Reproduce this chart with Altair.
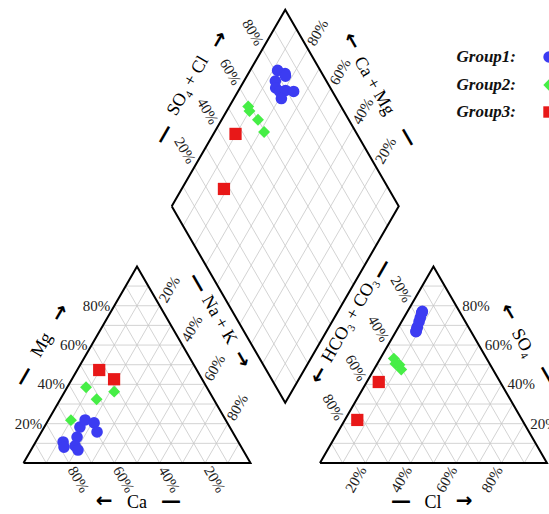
import altair as alt
import pandas as pd
import numpy as np

# ---------------- data (meq %) ----------------
group = ["Group1"] * 9 + ["Group2"] * 4 + ["Group3"] * 2
ca   = [77.2, 78.1, 66.0, 61.9, 69.8, 72.9, 72.7, 58.7, 59.7, 53.2, 68.2, 51.6, 41.9, 43.0, 38.8]
mg   = [10.7,  8.1, 18.3, 21.9, 13.2,  8.7,  6.6, 20.4, 15.8, 38.5, 21.8, 32.4, 36.3, 47.3, 42.6]
nak  = [12.1, 13.8, 15.7, 16.2, 17.0, 18.4, 20.7, 20.9, 24.5,  8.3, 10.0, 16.0, 21.8,  9.7, 18.6]
hco3 = [18.8, 22.5, 24.1, 16.3, 16.8, 23.2, 20.4, 24.3, 17.1, 40.9, 41.5, 40.0, 40.4, 53.5, 72.6]
so4  = [74.0, 69.2, 67.1, 77.2, 76.6, 68.3, 71.9, 66.8, 76.2, 53.1, 50.5, 50.0, 47.6, 41.2, 21.9]
cl   = [ 7.2,  8.3,  8.8,  6.5,  6.6,  8.5,  7.7,  8.9,  6.7,  6.0,  8.0, 10.0, 12.0,  5.3,  5.5]

groups = ["Group1", "Group2", "Group3"]
colors = ["#3c3cf2", "#46ee46", "#e81818"]
shapes = ["circle", "diamond", "square"]
ticks = [10, 20, 30, 40, 50, 60, 70, 80, 90]
label_ticks = [20, 40, 60, 80]

# ---------------- geometry ----------------
S3 = np.sqrt(3)
GAP = 0.306
OFF = 1 + GAP
PX = 227.0           # pixels per unit side
X0, Y0 = 23.5, 463.0 # pixel position of left-triangle origin


def left_xy(m, n):
    return n + m / 2, m * S3 / 2


def right_xy(s, c):
    return OFF + c + s / 2, s * S3 / 2


def dia_xy(n, a):
    return (n + OFF + a) / 2, S3 * (OFF + a - n) / 2


def pix(px, py):
    return (px - X0) / PX, (Y0 - py) / PX


# sample positions
rows = []
for g, c_, m_, n_, h_, s_, l_ in zip(group, ca, mg, nak, hco3, so4, cl):
    tot_c = c_ + m_ + n_
    tot_a = h_ + s_ + l_
    m, n = m_ / tot_c, n_ / tot_c
    s, l = s_ / tot_a, l_ / tot_a
    for x, y in (left_xy(m, n), right_xy(s, l), dia_xy(n, s + l)):
        rows.append({"group": g, "x": x, "y": y})
pts = pd.DataFrame(rows)

# grid lines
seg = []
for t in ticks:
    t = t / 100
    for o in (0, OFF):
        seg.append((o + t / 2, t * S3 / 2, o + 1 - t / 2, t * S3 / 2))
        seg.append((o + t, 0, o + t + (1 - t) / 2, (1 - t) * S3 / 2))
        seg.append((o + 1 - t, 0, o + (1 - t) / 2, (1 - t) * S3 / 2))
    a1 = dia_xy(t, 0); a2 = dia_xy(t, 1)
    seg.append((a1[0], a1[1], a2[0], a2[1]))
    b1 = dia_xy(0, t); b2 = dia_xy(1, t)
    seg.append((b1[0], b1[1], b2[0], b2[1]))
grid = pd.DataFrame(seg, columns=["x", "y", "x2", "y2"])

# outlines
outl = []
polys = {
    "left": [(0, 0), (1, 0), (0.5, S3 / 2), (0, 0)],
    "right": [(OFF, 0), (OFF + 1, 0), (OFF + 0.5, S3 / 2), (OFF, 0)],
    "dia": [dia_xy(0, 0), dia_xy(0, 1), dia_xy(1, 1), dia_xy(1, 0), dia_xy(0, 0)],
}
for k, pl in polys.items():
    for i, (x, y) in enumerate(pl):
        outl.append({"poly": k, "o": i, "x": x, "y": y})
outl = pd.DataFrame(outl)

# percent labels
d = 19 / PX
hl, hr, r60, r300 = [], [], [], []
for t in label_ticks:
    f = t / 100
    lab = f"{t}%"
    x, y = f / 2, f * S3 / 2
    hr.append({"x": x - 4 / PX, "y": y, "t": lab})
    x, y = f + (1 - f) / 2, (1 - f) * S3 / 2
    r300.append({"x": x + d * 0.5, "y": y + d * S3 / 2, "t": lab})
    x, y = 1 - f, 0
    r60.append({"x": x + d * 0.5, "y": y - d * S3 / 2, "t": lab})
    x, y = OFF + 1 - f / 2, f * S3 / 2
    hl.append({"x": x + 6 / PX, "y": y, "t": lab})
    x, y = OFF + (1 - f) / 2, (1 - f) * S3 / 2
    r60.append({"x": x - d * 0.5, "y": y + d * S3 / 2, "t": lab})
    x, y = OFF + f, 0
    r300.append({"x": x - d * 0.5, "y": y - d * S3 / 2, "t": lab})
    x, y = dia_xy(0, f)
    r60.append({"x": x - d * 0.5, "y": y + d * S3 / 2, "t": lab})
    x, y = dia_xy(1 - f, 1)
    r300.append({"x": x + d * 0.5, "y": y + d * S3 / 2, "t": lab})

# axis titles (text, arrows, dashes) placed in pixel positions
title_items = {
    0: [("Ca", 137, 503), ("Cl", 433, 503)],
    300: [("Mg", 42, 345), ("HCO₃ + CO₃", 350, 320), ("SO₄ + Cl", 188, 86)],
    60: [("Na + K", 219, 320), ("SO₄", 523, 343), ("Ca + Mg", 374, 86)],
}
arrow_items = {
    0: [("←", 104, 501), ("—", 171, 501), ("—", 401, 501), ("→", 464, 501)],
    300: [("—", 24, 376), ("→", 60, 313), ("←", 319, 375), ("—", 382, 269),
          ("—", 164, 134), ("→", 219, 40)],
    60: [("—", 198, 283), ("→", 242, 359), ("←", 509, 312), ("—", 547, 375),
         ("←", 352, 41), ("—", 408, 137)],
}

xs = alt.Scale(domain=[-X0 / PX, (549 - X0) / PX], nice=False, zero=False)
ys = alt.Scale(domain=[(Y0 - 514) / PX, Y0 / PX], nice=False, zero=False)
X = lambda f="x": alt.X(f"{f}:Q", scale=xs, axis=None)
Y = lambda f="y": alt.Y(f"{f}:Q", scale=ys, axis=None)

layers = []
layers.append(alt.Chart(grid).mark_rule(color="#c8c8c8", strokeWidth=0.8).encode(
    x=X(), y=Y(), x2="x2:Q", y2="y2:Q"))
layers.append(alt.Chart(outl).mark_line(color="black", strokeWidth=2, strokeJoin="miter").encode(
    x=X(), y=Y(), detail="poly:N", order="o:Q"))
layers.append(alt.Chart(pts).mark_point(filled=True, opacity=1, strokeWidth=0).encode(
    x=X(), y=Y(),
    color=alt.Color("group:N", scale=alt.Scale(domain=groups, range=colors), legend=None),
    shape=alt.Shape("group:N", scale=alt.Scale(domain=groups, range=shapes), legend=None),
    size=alt.Size("group:N", scale=alt.Scale(domain=groups, range=[135, 150, 130]), legend=None),
))

font = "Liberation Serif"
layers.append(alt.Chart(pd.DataFrame(hr)).mark_text(align="right", baseline="middle", font=font, fontSize=15, color="#222").encode(
    x=X(), y=Y(), text="t:N"))
layers.append(alt.Chart(pd.DataFrame(hl)).mark_text(align="left", baseline="middle", font=font, fontSize=15, color="#222").encode(
    x=X(), y=Y(), text="t:N"))
layers.append(alt.Chart(pd.DataFrame(r60)).mark_text(align="center", baseline="middle", angle=60, font=font, fontSize=15, color="#222").encode(
    x=X(), y=Y(), text="t:N"))
layers.append(alt.Chart(pd.DataFrame(r300)).mark_text(align="center", baseline="middle", angle=300, font=font, fontSize=15, color="#222").encode(
    x=X(), y=Y(), text="t:N"))

for ang, items in title_items.items():
    df = pd.DataFrame([{"t": t, "x": pix(a, b)[0], "y": pix(a, b)[1]} for t, a, b in items])
    layers.append(alt.Chart(df).mark_text(align="center", baseline="middle", angle=ang, font=font, fontSize=18, color="black").encode(
        x=X(), y=Y(), text="t:N"))
for ang, items in arrow_items.items():
    df = pd.DataFrame([{"t": t, "x": pix(a, b)[0], "y": pix(a, b)[1]} for t, a, b in items])
    layers.append(alt.Chart(df).mark_text(align="center", baseline="middle", angle=ang, font="DejaVu Sans", fontWeight="bold", fontSize=20, color="black").encode(
        x=X(), y=Y(), text="t:N"))

# legend
leg_y = [57, 85, 112]
leg = pd.DataFrame({
    "group": groups,
    "t": [g + ":" for g in groups],
    "x": [pix(516, v)[0] for v in leg_y],
    "xm": [pix(549, v)[0] for v in leg_y],
    "y": [pix(0, v)[1] for v in leg_y],
})
layers.append(alt.Chart(leg).mark_text(align="right", baseline="middle", font=font, fontStyle="italic", fontWeight="bold", fontSize=17, color="#111").encode(
    x=X(), y=Y(), text="t:N"))
layers.append(alt.Chart(leg).mark_point(filled=True, opacity=1, strokeWidth=0).encode(
    x=X("xm"), y=Y(),
    color=alt.Color("group:N", scale=alt.Scale(domain=groups, range=colors), legend=None),
    shape=alt.Shape("group:N", scale=alt.Scale(domain=groups, range=shapes), legend=None),
    size=alt.value(130),
))

chart = alt.layer(*layers).properties(
    width=549, height=514, padding=0, autosize=alt.AutoSizeParams(type="none"),
    background="white",
).configure_view(stroke=None)

chart.save("out.html", embed_options={"renderer": "svg", "actions": False})
